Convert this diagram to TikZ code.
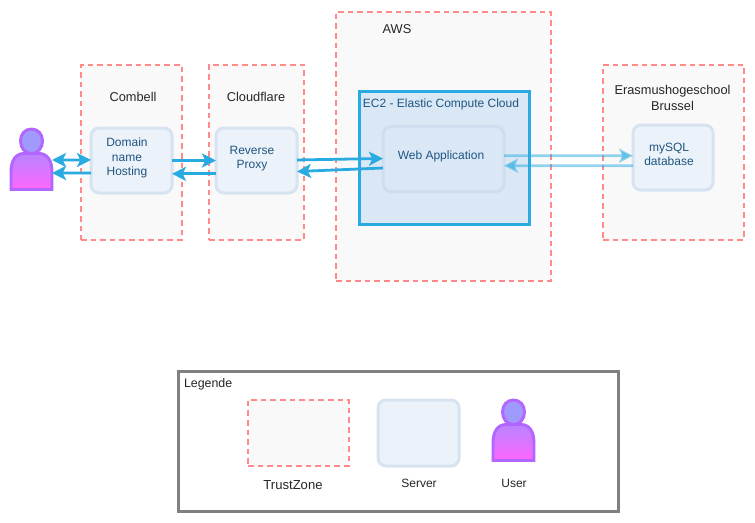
\documentclass[tikz,border=0pt]{standalone}
\usepackage{fontspec}
\setmainfont{Liberation Sans}
\usetikzlibrary{arrows.meta}
\definecolor{zoneline}{HTML}{FF8A8A}
\definecolor{zonefill}{HTML}{F9F9F9}
\definecolor{srvline}{HTML}{D7E3F0}
\definecolor{srvfill}{HTML}{EBF2FA}
\definecolor{webline}{HTML}{CFDEEE}
\definecolor{srvtext}{HTML}{1F5580}
\definecolor{ecline}{HTML}{29ABE2}
\definecolor{ecfill}{HTML}{DAE8F6}
\definecolor{usrline}{HTML}{B266FF}
\tikzset{
  every node/.style={font=\fontsize{9}{10.5}\selectfont, inner sep=0pt, outer sep=0pt, align=center},
  zone/.style={draw=zoneline, fill=zonefill, line width=1.7pt, dash pattern=on 4.2pt off 3pt},
  srv/.style={draw=srvline, fill=srvfill, line width=2.25pt, rounded corners=6pt},
  ec2/.style={draw=ecline, fill=ecfill, line width=2.25pt},
  legbox/.style={draw=black!50, fill=white, line width=2.25pt},
  lbl/.style={text=black!85, font=\fontsize{9.6}{11.8}\selectfont},
  srvlbl/.style={text=srvtext},
  link/.style={draw=ecline, line width=2.1pt, -{Stealth[length=10.5pt,width=10.5pt,inset=2.5pt]}},
  twoway/.style={draw=ecline, line width=2.1pt, {Stealth[length=10.5pt,width=10.5pt,inset=2.5pt]}-{Stealth[length=10.5pt,width=10.5pt,inset=2.5pt]}},
  faint/.style={link, opacity=0.5},
  usr/.style={draw=usrline, line width=2.2pt}
}
\definecolor{usrtop}{HTML}{B884FF}
\definecolor{usrbot}{HTML}{FF66FF}
\definecolor{usrhead}{HTML}{A09AFF}
\newcommand{\usershape}[2]{%
  \begin{scope}[shift={(#1,#2)}]
    \path[usr, top color=usrtop, bottom color=usrbot] (11,189.5) -- (11,172) .. controls (11,160) and (16,153.5) .. (24,153.5) -- (39,153.5) .. controls (47,153.5) and (52,160) .. (52,172) -- (52,189.5) -- cycle;
    \path[usr, fill=usrhead] (31.5,129) .. controls (38,129) and (42.5,134) .. (42.5,141) .. controls (42.5,148) and (38,153.5) .. (31.5,153.5) .. controls (25,153.5) and (20.5,148) .. (20.5,141) .. controls (20.5,134) and (25,129) .. (31.5,129) -- cycle;
  \end{scope}}
\begin{document}
\begin{tikzpicture}[x=0.75pt,y=-0.75pt]
\useasboundingbox (0,0) rectangle (755,522);
\fill[white] (0,0) rectangle (755,522);
% trust zones
\node[zone, minimum width=75.75pt, minimum height=131.25pt] (combell) at (131.5,152.5) {};
\node[zone, minimum width=71.25pt, minimum height=131.25pt] (cloudflare) at (256.5,152.5) {};
\node[zone, minimum width=161.25pt, minimum height=201.75pt] (aws) at (443.5,146.5) {};
\node[zone, minimum width=105.75pt, minimum height=131.25pt] (erasmus) at (673.5,152.5) {};
\node[ec2, minimum width=127.5pt, minimum height=99.75pt] (ec) at (444,158) {};
% servers
\node[srv, minimum width=60.75pt, minimum height=48.75pt] (domain) at (131.5,160.5) {};
\node[srv, minimum width=60.75pt, minimum height=48.75pt] (proxy) at (256.5,160.5) {};
\node[srv, draw=webline, fill=ecfill, minimum width=90.75pt, minimum height=48.75pt] (web) at (443.5,159) {};
\node[srv, minimum width=60pt, minimum height=48.75pt] (mysql) at (673,157.5) {};
% user
\node[minimum width=30.75pt, minimum height=46.5pt] (user) at (31.5,159) {};
\usershape{0}{0}
% labels
\node[lbl] (tcombell) at (133,97) {Combell};
\node[lbl] (tcloud) at (256,97) {Cloudflare};
\node[lbl] (taws) at (397,29) {AWS};
\node[lbl] (teras) at (672.5,98) {Erasmushogeschool\\Brussel};
\node[srvlbl] (tec) at (441,104.5) {EC2 - Elastic Compute Cloud};
\node[srvlbl, font=\fontsize{9}{10.9}\selectfont] (tdomain) at (127,158) {Domain\\name\\Hosting};
\node[srvlbl] (tproxy) at (252,158.5) {Reverse\\Proxy};
\node[srvlbl] (tweb) at (441,156) {Web Application};
\node[srvlbl] (tmysql) at (669,154.5) {mySQL\\database};
% connectors
\draw[twoway] ([yshift=-0.75pt]user.east) -- ([yshift=0.4pt]domain.west);
\draw[link] ([yshift=-9.4pt]domain.west) -- ([yshift=-10.5pt]user.east);
\draw[link] (domain.east) -- (proxy.west);
\draw[link] ([yshift=-10pt]proxy.west) -- ([yshift=-10pt]domain.east);
\draw[link] ([yshift=0.4pt]proxy.east) -- ([yshift=0.4pt]web.west);
\draw[link] ([yshift=-6.75pt]web.west) -- ([yshift=-8.25pt]proxy.east);
\draw[faint] ([yshift=2.5pt]web.east) -- ([yshift=1.35pt]mysql.west);
\draw[faint] ([yshift=-6.15pt]mysql.west) -- ([yshift=-5pt]web.east);
% legend
\node[legbox, minimum width=330pt, minimum height=105pt] (legend) at (398,441) {};
\node[lbl, font=\fontsize{9.3}{10}\selectfont, anchor=west] (tleg) at (184,384) {Legende};
\node[zone, minimum width=75.75pt, minimum height=49.5pt] (kzone) at (298.5,433) {};
\node[srv, minimum width=60.75pt, minimum height=49.5pt] (ksrv) at (418.5,433) {};
\node[minimum width=32pt, minimum height=46pt] (kuser) at (513.5,430) {};
\usershape{482}{271}
\node[lbl, font=\fontsize{9.8}{10}\selectfont] (tkzone) at (293,485) {TrustZone};
\node[lbl, font=\fontsize{9}{10}\selectfont] (tksrv) at (419,483.5) {Server};
\node[lbl, font=\fontsize{9}{10}\selectfont] (tkuser) at (514,483.5) {User};
\end{tikzpicture}
\end{document}
